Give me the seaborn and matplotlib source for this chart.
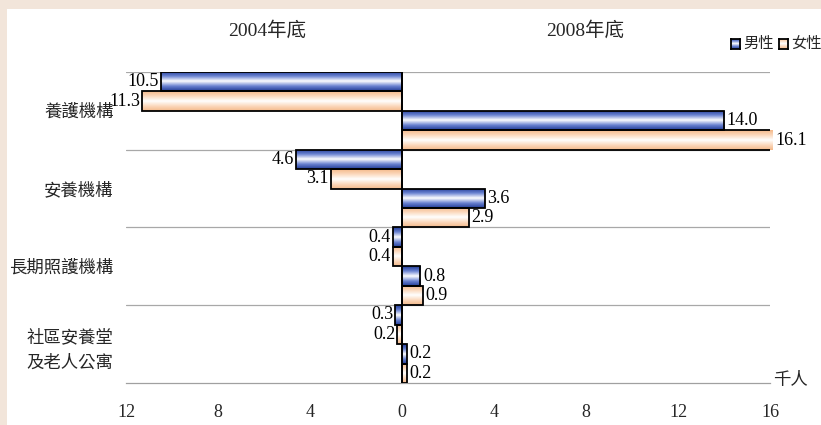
import numpy as np
import pandas as pd
import matplotlib
matplotlib.use("Agg")
import matplotlib.pyplot as plt
import seaborn as sns
from matplotlib.colors import LinearSegmentedColormap
from matplotlib.patches import Rectangle

sns.set_theme(style="white")
plt.rcParams["font.family"] = ["Liberation Serif", "Noto Sans CJK TC", "DejaVu Sans"]

categories = ["養護機構", "安養機構", "長期照護機構", "社區安養堂\n及老人公寓"]
male_2004 = [10.5, 4.6, 0.4, 0.3]
female_2004 = [11.3, 3.1, 0.4, 0.2]
male_2008 = [14.0, 3.6, 0.8, 0.2]
female_2008 = [16.1, 2.9, 0.9, 0.2]
series = ["2004男性", "2004女性", "2008男性", "2008女性"]
xticks = [-12, -8, -4, 0, 4, 8, 12, 16]

# 2004 values are drawn to the left of zero, 2008 to the right
rows = []
for name, vals, sign in zip(series, [male_2004, female_2004, male_2008, female_2008],
                            [-1, -1, 1, 1]):
    for cat, v in zip(categories, vals):
        rows.append({"類別": cat, "組別": name, "值": sign * v, "標示": v})
df = pd.DataFrame(rows)

W, H = 821, 425
fig = plt.figure(figsize=(W / 100, H / 100), dpi=100)
fig.patch.set_facecolor("white")
# beige frame along the top and left edges
fig.add_artist(Rectangle((0, 1 - 9 / H), 1, 9 / H, transform=fig.transFigure,
                         facecolor="#F2E5DA", edgecolor="none", zorder=-10))
fig.add_artist(Rectangle((0, 0), 7 / W, 1, transform=fig.transFigure,
                         facecolor="#F2E5DA", edgecolor="none", zorder=-10))

ax = fig.add_axes([126 / W, 1 - 383 / H, (770 - 126) / W, (383 - 72) / H])

palette = {"2004男性": "#4A64C0", "2004女性": "#F8C8A0",
           "2008男性": "#4A64C0", "2008女性": "#F8C8A0"}
sns.barplot(data=df, y="類別", x="值", hue="組別", hue_order=series, order=categories,
            orient="h", dodge=True, width=1.0, palette=palette, ax=ax,
            edgecolor="black", linewidth=1.3, legend=False, errorbar=None)

ax.set_xlim(-12, 16)
ax.set_ylim(3.5, -0.5)

# vertical gradient fill (coloured edges fading to white in the middle)
cmap_m = LinearSegmentedColormap.from_list("m", ["#213C96", "#6C84D2", "#FFFFFF", "#6C84D2", "#213C96"])
cmap_f = LinearSegmentedColormap.from_list("f", ["#F4B98A", "#FBD9BE", "#FFFFFF", "#FBD9BE", "#F4B98A"])
grad = np.linspace(0, 1, 64).reshape(-1, 1)
for i, container in enumerate(ax.containers):
    cmap = cmap_m if "男" in series[i] else cmap_f
    labels = df[df["組別"] == series[i]]["標示"].tolist()
    for patch, lab in zip(container.patches, labels):
        x0, y0 = patch.get_x(), patch.get_y()
        w, h = patch.get_width(), patch.get_height()
        patch.set_facecolor("none")
        patch.set_zorder(3)
        im = ax.imshow(grad, cmap=cmap, aspect="auto",
                       extent=[x0, x0 + w, y0 + h, y0], zorder=2, interpolation="bilinear")
        im.set_clip_path(patch)
        if w < 0 or x0 < 0:
            ax.text(min(x0, x0 + w) - 0.08, y0 + h / 2, f"{lab:.1f}", ha="right",
                    va="center", fontsize=13, color="black")
        else:
            ax.text(x0 + w + 0.12, y0 + h / 2, f"{lab:.1f}", ha="left",
                    va="center", fontsize=13, color="black")

ax.set_xlim(-12, 16)
ax.set_ylim(3.5, -0.5)

# category separators
for yb in [-0.5, 0.5, 1.5, 2.5]:
    ax.axhline(yb, color="#A8A8A8", linewidth=0.9, zorder=1)
ax.axvline(0, color="black", linewidth=1.3, zorder=4)

for s in ["top", "right", "left"]:
    ax.spines[s].set_visible(False)
ax.spines["bottom"].set_color("#A0A0A0")
ax.spines["bottom"].set_linewidth(0.9)

ax.set_xticks(xticks)
ax.set_xticklabels([str(abs(t)) for t in xticks], fontsize=13)
ax.tick_params(axis="x", direction="in", length=5, color="#A0A0A0", width=0.9, pad=15)
ax.tick_params(axis="y", length=0, pad=9, labelsize=12.5)
ax.set_yticks(range(len(categories)))
ax.set_yticklabels(categories, linespacing=1.75)
ax.set_xlabel("")
ax.set_ylabel("")

fig.text(790 / W, 1 - 381 / H, "千人", ha="center", va="center", fontsize=12.5)
fig.text(267 / W, 1 - 30 / H, "2004年底", ha="center", va="center", fontsize=14)
fig.text(585 / W, 1 - 30 / H, "2008年底", ha="center", va="center", fontsize=14)

# legend
for xs, label, c in [(731, "男性", cmap_m), (779, "女性", cmap_f)]:
    lax = fig.add_axes([xs / W, 1 - 49 / H, 9 / W, 10 / H])
    lax.imshow(grad, cmap=c, aspect="auto", extent=[0, 1, 1, 0])
    lax.set_xticks([]); lax.set_yticks([])
    for sp in lax.spines.values():
        sp.set_color("black"); sp.set_linewidth(1.3)
    fig.text((xs + 12) / W, 1 - 44 / H, label, ha="left", va="center", fontsize=11)

fig.savefig("out.png", dpi=100)
